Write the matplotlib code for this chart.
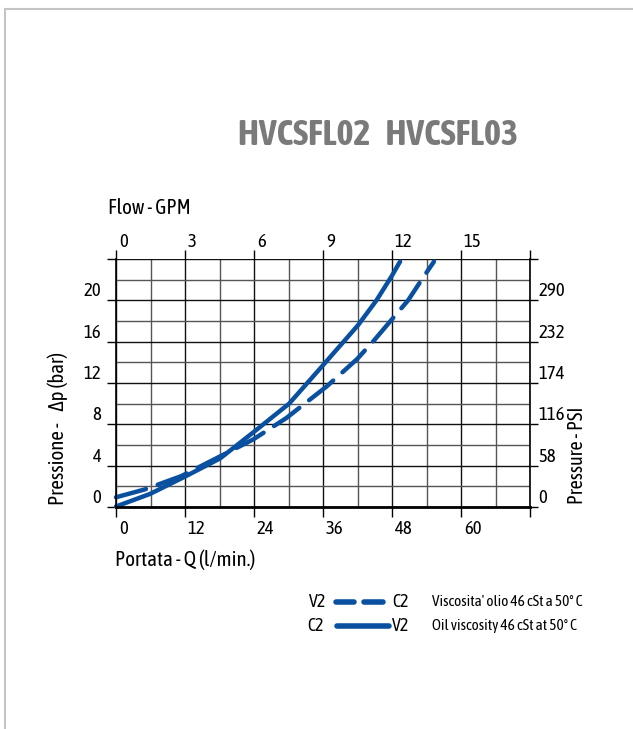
import numpy as np
import matplotlib.pyplot as plt
from matplotlib.lines import Line2D
from matplotlib.transforms import ScaledTranslation

# condensed sans close to the catalogue font, DejaVu as fallback
plt.rcParams['font.family'] = ['Asap Condensed', 'DejaVu Sans']

# flow in l/min, pressure drop in bar
q_solid = [0, 5.9, 12.2, 18.1, 24.05, 30.1, 36.05, 42.1, 45.3, 47.9, 49.4]
dp_solid = [0.05, 1.26, 3.0, 4.7, 7.3, 10.0, 13.75, 17.6, 20.0, 22.3, 23.75]

q_dash = [0, 5.0, 11.4, 18.1, 23.9, 29.6, 36.6, 41.9, 45.0, 48.2, 50.8, 53.4, 55.3]
dp_dash = [0.94, 1.7, 3.0, 4.9, 6.55, 8.6, 11.65, 14.3, 16.2, 18.3, 20.0, 22.2, 23.75]

# tick labels
lpm_ticks = [0, 12, 24, 36, 48, 60, 72]
lpm_labels = ['0', '12', '24', '36', '48', '60', '']
gpm_labels = ['0', '3', '6', '9', '12', '15', '']
bar_ticks = [0, 4, 8, 12, 16, 20, 24]
bar_labels = ['0', '4', '8', '12', '16', '20', '']
psi_labels = ['0', '58', '116', '174', '232', '290', '']

blue = '#0a50a0'
W, H = 633, 729
fig = plt.figure(figsize=(W / 100, H / 100), dpi=100)
shift = ScaledTranslation(2 / 72, 0, fig.dpi_scale_trans)  # nudge x labels right

# light grey page border
fig.add_artist(Line2D([5 / W, 1], [1 - 9 / H, 1 - 9 / H], color='#c4c4c4', lw=1.5))
fig.add_artist(Line2D([5 / W, 5 / W], [0, 1 - 9 / H], color='#c4c4c4', lw=1.5))

ax = fig.add_axes([116 / W, 1 - 507 / H, 414 / W, 248 / H])
ax.set_xlim(0, 72)
ax.set_ylim(0, 24)

# grid
ax.set_xticks(np.arange(0, 73, 6), minor=True)
ax.set_yticks(np.arange(0, 25, 2), minor=True)
ax.set_xticks(lpm_ticks)
ax.set_xticklabels(lpm_labels)
ax.set_yticks(bar_ticks)
ax.set_yticklabels(bar_labels)
ax.grid(which='minor', color='#555555', lw=1.0)
ax.grid(which='major', color='#111111', lw=1.0)
ax.set_axisbelow(True)
ax.tick_params(which='minor', length=0)
ax.tick_params(axis='x', which='major', direction='out', length=7, width=1,
               labelsize=13.5, pad=2.5)
ax.tick_params(axis='y', which='major', direction='out', length=6.5, width=1,
               labelsize=13.5, pad=4)
for lab in ax.get_xticklabels():
    lab.set_ha('left')
    lab.set_transform(lab.get_transform() + shift)
for lab in ax.get_yticklabels():
    lab.set_va('bottom')
for s in ['top', 'right']:
    ax.spines[s].set_visible(False)
ax.spines['bottom'].set_linewidth(2)
ax.spines['left'].set_linewidth(1.2)

# top axis in GPM
ax2 = ax.twiny()
ax2.set_xlim(0, 72)
ax2.set_xticks(lpm_ticks)
ax2.set_xticklabels(gpm_labels)
ax2.tick_params(axis='x', direction='out', length=6.5, width=1, labelsize=13.5, pad=-0.5)
for lab in ax2.get_xticklabels():
    lab.set_ha('left')
    lab.set_transform(lab.get_transform() + shift)

# right axis in PSI
ax3 = ax.twinx()
ax3.set_ylim(0, 24)
ax3.set_yticks(bar_ticks)
ax3.set_yticklabels(psi_labels)
ax3.tick_params(axis='y', direction='out', length=6, width=1, labelsize=13.5, pad=0)
for lab in ax3.get_yticklabels():
    lab.set_va('bottom')
for a in (ax2, ax3):
    for s in a.spines.values():
        s.set_visible(False)
ax3.spines['right'].set_visible(True)
ax3.spines['right'].set_linewidth(1.2)

# curves
ax.plot(q_solid, dp_solid, color=blue, lw=3.2, solid_capstyle='round', clip_on=False)
ax.plot(q_dash, dp_dash, color=blue, lw=3.2, dashes=(7, 2.8),
        dash_capstyle='round', clip_on=False)

# axis titles
fig.text(108 / W, 1 - 208 / H, 'Flow - GPM', fontsize=15, va='center', ha='left')
fig.text(115 / W, 1 - 560 / H, 'Portata - Q (l/min.)', fontsize=15, va='center', ha='left')
fig.text(58 / W, 1 - 428 / H, 'Pressione -    \u0394p (bar)', fontsize=15,
         rotation=90, va='center', ha='center')
fig.text(577 / W, 1 - 455 / H, 'Pressure - PSI', fontsize=14.5,
         rotation=90, va='center', ha='center')

# title
fig.text(378 / W, 1 - 135 / H, 'HVCSFL02   HVCSFL03', fontsize=26, fontweight='bold',
         color='#7a7a7a', ha='center', va='center')

# legend
y1, y2 = 1 - 602 / H, 1 - 626 / H
fig.add_artist(Line2D([336 / W, 354 / W], [y1, y1], color=blue, lw=4, solid_capstyle='round'))
fig.add_artist(Line2D([364 / W, 383 / W], [y1, y1], color=blue, lw=4, solid_capstyle='round'))
fig.add_artist(Line2D([337 / W, 389 / W], [y2, y2], color=blue, lw=4, solid_capstyle='round'))
fig.text(318 / W, y1, 'V2', fontsize=13, ha='center', va='center')
fig.text(401 / W, y1, 'C2', fontsize=13, ha='center', va='center')
fig.text(316 / W, y2, 'C2', fontsize=13, ha='center', va='center')
fig.text(401 / W, y2, 'V2', fontsize=13, ha='center', va='center')
fig.text(432 / W, y1, "Viscosita' olio 46 cSt a 50\u00b0 C", fontsize=11, ha='left', va='center')
fig.text(432 / W, y2, 'Oil viscosity 46 cSt at 50\u00b0 C', fontsize=11, ha='left', va='center')

fig.savefig('out.png', dpi=100)
